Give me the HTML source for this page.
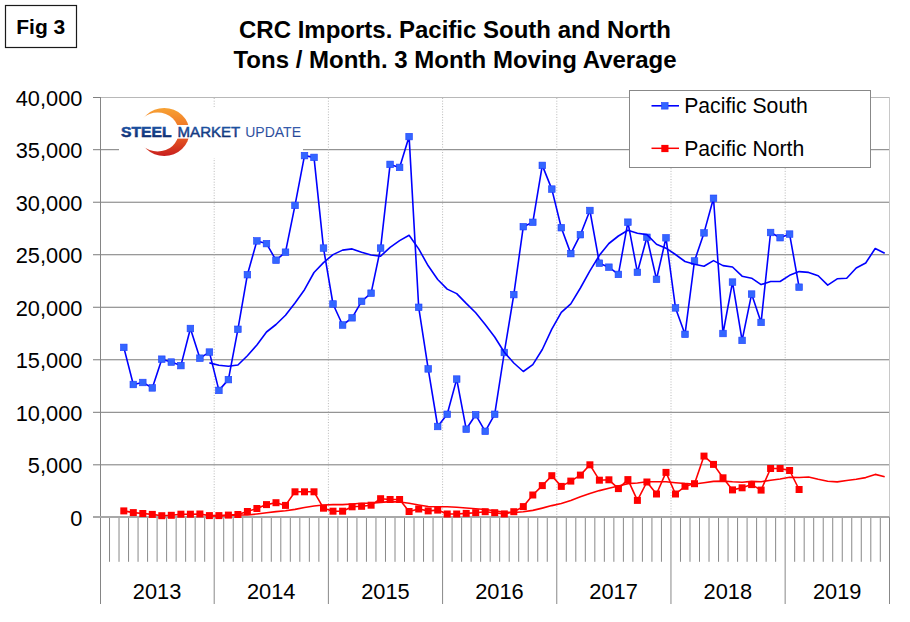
<!DOCTYPE html><html><head><meta charset="utf-8"><style>html,body{margin:0;padding:0;background:#fff;}svg{display:block;}text{font-family:"Liberation Sans",sans-serif;}</style></head><body><svg width="910" height="622" viewBox="0 0 910 622"><defs><linearGradient id="cg" x1="0" y1="0" x2="0" y2="1"><stop offset="0" stop-color="#f7a234"/><stop offset="0.5" stop-color="#ee6a22"/><stop offset="1" stop-color="#c81e1e"/></linearGradient><linearGradient id="tg" x1="0" y1="0" x2="0" y2="1"><stop offset="0" stop-color="#1f5cb0"/><stop offset="1" stop-color="#0b2464"/></linearGradient><linearGradient id="ug" x1="0" y1="0" x2="0" y2="1"><stop offset="0" stop-color="#3d64b4"/><stop offset="1" stop-color="#1e3c8c"/></linearGradient></defs><rect width="910" height="622" fill="#fff"/><rect x="5.5" y="5.5" width="71" height="42" fill="none" stroke="#1a1a1a" stroke-width="1.2"/><text x="16.3" y="34.2" font-size="21" font-weight="bold" fill="#000">Fig 3</text><text x="455" y="38.2" font-size="24" font-weight="bold" text-anchor="middle" fill="#000">CRC Imports. Pacific South and North</text><text x="455" y="68.4" font-size="24" font-weight="bold" text-anchor="middle" fill="#000">Tons / Month. 3 Month Moving Average</text><line x1="93" y1="149.70" x2="889.5" y2="149.70" stroke="#7a7a7a" stroke-width="1"/><line x1="93" y1="202.22" x2="889.5" y2="202.22" stroke="#7a7a7a" stroke-width="1"/><line x1="93" y1="254.74" x2="889.5" y2="254.74" stroke="#7a7a7a" stroke-width="1"/><line x1="93" y1="307.26" x2="889.5" y2="307.26" stroke="#7a7a7a" stroke-width="1"/><line x1="93" y1="359.78" x2="889.5" y2="359.78" stroke="#7a7a7a" stroke-width="1"/><line x1="93" y1="412.30" x2="889.5" y2="412.30" stroke="#7a7a7a" stroke-width="1"/><line x1="93" y1="464.82" x2="889.5" y2="464.82" stroke="#7a7a7a" stroke-width="1"/><line x1="100" y1="97.5" x2="889.5" y2="97.5" stroke="#b8b8b8" stroke-width="1"/><line x1="93" y1="97.5" x2="100" y2="97.5" stroke="#808080" stroke-width="1"/><line x1="214.2" y1="98.0" x2="214.2" y2="517.0" stroke="#b8b8b8" stroke-width="1" stroke-dasharray="1,1.7"/><line x1="328.4" y1="98.0" x2="328.4" y2="517.0" stroke="#b8b8b8" stroke-width="1" stroke-dasharray="1,1.7"/><line x1="442.6" y1="98.0" x2="442.6" y2="517.0" stroke="#b8b8b8" stroke-width="1" stroke-dasharray="1,1.7"/><line x1="556.8" y1="98.0" x2="556.8" y2="517.0" stroke="#b8b8b8" stroke-width="1" stroke-dasharray="1,1.7"/><line x1="671.0" y1="98.0" x2="671.0" y2="517.0" stroke="#b8b8b8" stroke-width="1" stroke-dasharray="1,1.7"/><line x1="785.2" y1="98.0" x2="785.2" y2="517.0" stroke="#b8b8b8" stroke-width="1" stroke-dasharray="1,1.7"/><line x1="889.5" y1="97.0" x2="889.5" y2="517.0" stroke="#c8c8c8" stroke-width="1"/><line x1="889.5" y1="517.0" x2="889.5" y2="604" stroke="#888" stroke-width="1"/><line x1="109.52" y1="517.0" x2="109.52" y2="561.8" stroke="#888" stroke-width="1"/><line x1="119.03" y1="517.0" x2="119.03" y2="561.8" stroke="#888" stroke-width="1"/><line x1="128.55" y1="517.0" x2="128.55" y2="561.8" stroke="#888" stroke-width="1"/><line x1="138.06" y1="517.0" x2="138.06" y2="561.8" stroke="#888" stroke-width="1"/><line x1="147.58" y1="517.0" x2="147.58" y2="561.8" stroke="#888" stroke-width="1"/><line x1="157.10" y1="517.0" x2="157.10" y2="561.8" stroke="#888" stroke-width="1"/><line x1="166.61" y1="517.0" x2="166.61" y2="561.8" stroke="#888" stroke-width="1"/><line x1="176.13" y1="517.0" x2="176.13" y2="561.8" stroke="#888" stroke-width="1"/><line x1="185.64" y1="517.0" x2="185.64" y2="561.8" stroke="#888" stroke-width="1"/><line x1="195.16" y1="517.0" x2="195.16" y2="561.8" stroke="#888" stroke-width="1"/><line x1="204.68" y1="517.0" x2="204.68" y2="561.8" stroke="#888" stroke-width="1"/><line x1="214.19" y1="517.0" x2="214.19" y2="604" stroke="#888" stroke-width="1"/><line x1="223.71" y1="517.0" x2="223.71" y2="561.8" stroke="#888" stroke-width="1"/><line x1="233.22" y1="517.0" x2="233.22" y2="561.8" stroke="#888" stroke-width="1"/><line x1="242.74" y1="517.0" x2="242.74" y2="561.8" stroke="#888" stroke-width="1"/><line x1="252.26" y1="517.0" x2="252.26" y2="561.8" stroke="#888" stroke-width="1"/><line x1="261.77" y1="517.0" x2="261.77" y2="561.8" stroke="#888" stroke-width="1"/><line x1="271.29" y1="517.0" x2="271.29" y2="561.8" stroke="#888" stroke-width="1"/><line x1="280.80" y1="517.0" x2="280.80" y2="561.8" stroke="#888" stroke-width="1"/><line x1="290.32" y1="517.0" x2="290.32" y2="561.8" stroke="#888" stroke-width="1"/><line x1="299.84" y1="517.0" x2="299.84" y2="561.8" stroke="#888" stroke-width="1"/><line x1="309.35" y1="517.0" x2="309.35" y2="561.8" stroke="#888" stroke-width="1"/><line x1="318.87" y1="517.0" x2="318.87" y2="561.8" stroke="#888" stroke-width="1"/><line x1="328.38" y1="517.0" x2="328.38" y2="604" stroke="#888" stroke-width="1"/><line x1="337.90" y1="517.0" x2="337.90" y2="561.8" stroke="#888" stroke-width="1"/><line x1="347.42" y1="517.0" x2="347.42" y2="561.8" stroke="#888" stroke-width="1"/><line x1="356.93" y1="517.0" x2="356.93" y2="561.8" stroke="#888" stroke-width="1"/><line x1="366.45" y1="517.0" x2="366.45" y2="561.8" stroke="#888" stroke-width="1"/><line x1="375.96" y1="517.0" x2="375.96" y2="561.8" stroke="#888" stroke-width="1"/><line x1="385.48" y1="517.0" x2="385.48" y2="561.8" stroke="#888" stroke-width="1"/><line x1="395.00" y1="517.0" x2="395.00" y2="561.8" stroke="#888" stroke-width="1"/><line x1="404.51" y1="517.0" x2="404.51" y2="561.8" stroke="#888" stroke-width="1"/><line x1="414.03" y1="517.0" x2="414.03" y2="561.8" stroke="#888" stroke-width="1"/><line x1="423.54" y1="517.0" x2="423.54" y2="561.8" stroke="#888" stroke-width="1"/><line x1="433.06" y1="517.0" x2="433.06" y2="561.8" stroke="#888" stroke-width="1"/><line x1="442.58" y1="517.0" x2="442.58" y2="604" stroke="#888" stroke-width="1"/><line x1="452.09" y1="517.0" x2="452.09" y2="561.8" stroke="#888" stroke-width="1"/><line x1="461.61" y1="517.0" x2="461.61" y2="561.8" stroke="#888" stroke-width="1"/><line x1="471.12" y1="517.0" x2="471.12" y2="561.8" stroke="#888" stroke-width="1"/><line x1="480.64" y1="517.0" x2="480.64" y2="561.8" stroke="#888" stroke-width="1"/><line x1="490.16" y1="517.0" x2="490.16" y2="561.8" stroke="#888" stroke-width="1"/><line x1="499.67" y1="517.0" x2="499.67" y2="561.8" stroke="#888" stroke-width="1"/><line x1="509.19" y1="517.0" x2="509.19" y2="561.8" stroke="#888" stroke-width="1"/><line x1="518.70" y1="517.0" x2="518.70" y2="561.8" stroke="#888" stroke-width="1"/><line x1="528.22" y1="517.0" x2="528.22" y2="561.8" stroke="#888" stroke-width="1"/><line x1="537.74" y1="517.0" x2="537.74" y2="561.8" stroke="#888" stroke-width="1"/><line x1="547.25" y1="517.0" x2="547.25" y2="561.8" stroke="#888" stroke-width="1"/><line x1="556.77" y1="517.0" x2="556.77" y2="604" stroke="#888" stroke-width="1"/><line x1="566.28" y1="517.0" x2="566.28" y2="561.8" stroke="#888" stroke-width="1"/><line x1="575.80" y1="517.0" x2="575.80" y2="561.8" stroke="#888" stroke-width="1"/><line x1="585.32" y1="517.0" x2="585.32" y2="561.8" stroke="#888" stroke-width="1"/><line x1="594.83" y1="517.0" x2="594.83" y2="561.8" stroke="#888" stroke-width="1"/><line x1="604.35" y1="517.0" x2="604.35" y2="561.8" stroke="#888" stroke-width="1"/><line x1="613.86" y1="517.0" x2="613.86" y2="561.8" stroke="#888" stroke-width="1"/><line x1="623.38" y1="517.0" x2="623.38" y2="561.8" stroke="#888" stroke-width="1"/><line x1="632.90" y1="517.0" x2="632.90" y2="561.8" stroke="#888" stroke-width="1"/><line x1="642.41" y1="517.0" x2="642.41" y2="561.8" stroke="#888" stroke-width="1"/><line x1="651.93" y1="517.0" x2="651.93" y2="561.8" stroke="#888" stroke-width="1"/><line x1="661.44" y1="517.0" x2="661.44" y2="561.8" stroke="#888" stroke-width="1"/><line x1="670.96" y1="517.0" x2="670.96" y2="604" stroke="#888" stroke-width="1"/><line x1="680.48" y1="517.0" x2="680.48" y2="561.8" stroke="#888" stroke-width="1"/><line x1="689.99" y1="517.0" x2="689.99" y2="561.8" stroke="#888" stroke-width="1"/><line x1="699.51" y1="517.0" x2="699.51" y2="561.8" stroke="#888" stroke-width="1"/><line x1="709.02" y1="517.0" x2="709.02" y2="561.8" stroke="#888" stroke-width="1"/><line x1="718.54" y1="517.0" x2="718.54" y2="561.8" stroke="#888" stroke-width="1"/><line x1="728.06" y1="517.0" x2="728.06" y2="561.8" stroke="#888" stroke-width="1"/><line x1="737.57" y1="517.0" x2="737.57" y2="561.8" stroke="#888" stroke-width="1"/><line x1="747.09" y1="517.0" x2="747.09" y2="561.8" stroke="#888" stroke-width="1"/><line x1="756.60" y1="517.0" x2="756.60" y2="561.8" stroke="#888" stroke-width="1"/><line x1="766.12" y1="517.0" x2="766.12" y2="561.8" stroke="#888" stroke-width="1"/><line x1="775.64" y1="517.0" x2="775.64" y2="561.8" stroke="#888" stroke-width="1"/><line x1="785.15" y1="517.0" x2="785.15" y2="604" stroke="#888" stroke-width="1"/><line x1="794.67" y1="517.0" x2="794.67" y2="561.8" stroke="#888" stroke-width="1"/><line x1="804.18" y1="517.0" x2="804.18" y2="561.8" stroke="#888" stroke-width="1"/><line x1="813.70" y1="517.0" x2="813.70" y2="561.8" stroke="#888" stroke-width="1"/><line x1="823.22" y1="517.0" x2="823.22" y2="561.8" stroke="#888" stroke-width="1"/><line x1="832.73" y1="517.0" x2="832.73" y2="561.8" stroke="#888" stroke-width="1"/><line x1="842.25" y1="517.0" x2="842.25" y2="561.8" stroke="#888" stroke-width="1"/><line x1="851.76" y1="517.0" x2="851.76" y2="561.8" stroke="#888" stroke-width="1"/><line x1="861.28" y1="517.0" x2="861.28" y2="561.8" stroke="#888" stroke-width="1"/><line x1="870.80" y1="517.0" x2="870.80" y2="561.8" stroke="#888" stroke-width="1"/><line x1="880.31" y1="517.0" x2="880.31" y2="561.8" stroke="#888" stroke-width="1"/><line x1="100.5" y1="97.0" x2="100.5" y2="604" stroke="#858585" stroke-width="1"/><line x1="93" y1="517.0" x2="889.5" y2="517.0" stroke="#a8a8a8" stroke-width="2"/><text x="82.4" y="105.8" font-size="21.8" text-anchor="end" fill="#000">40,000</text><text x="82.4" y="158.3" font-size="21.8" text-anchor="end" fill="#000">35,000</text><text x="82.4" y="210.8" font-size="21.8" text-anchor="end" fill="#000">30,000</text><text x="82.4" y="263.3" font-size="21.8" text-anchor="end" fill="#000">25,000</text><text x="82.4" y="315.8" font-size="21.8" text-anchor="end" fill="#000">20,000</text><text x="82.4" y="368.3" font-size="21.8" text-anchor="end" fill="#000">15,000</text><text x="82.4" y="420.8" font-size="21.8" text-anchor="end" fill="#000">10,000</text><text x="82.4" y="473.3" font-size="21.8" text-anchor="end" fill="#000">5,000</text><text x="82.4" y="525.8" font-size="21.8" text-anchor="end" fill="#000">0</text><text x="157.1" y="598.9" font-size="21.8" text-anchor="middle" fill="#000">2013</text><text x="271.2" y="598.9" font-size="21.8" text-anchor="middle" fill="#000">2014</text><text x="385.4" y="598.9" font-size="21.8" text-anchor="middle" fill="#000">2015</text><text x="499.5" y="598.9" font-size="21.8" text-anchor="middle" fill="#000">2016</text><text x="613.6" y="598.9" font-size="21.8" text-anchor="middle" fill="#000">2017</text><text x="727.8" y="598.9" font-size="21.8" text-anchor="middle" fill="#000">2018</text><text x="837.2" y="598.9" font-size="21.8" text-anchor="middle" fill="#000">2019</text><rect x="119" y="107" width="184" height="51" fill="#fff"/><mask id="cm"><rect x="119" y="100" width="90" height="60" fill="#fff"/><ellipse cx="157.6" cy="132.1" rx="21.1" ry="19.5" fill="#000"/></mask><ellipse cx="164.2" cy="132" rx="25.2" ry="24" fill="url(#cg)" mask="url(#cm)"/><rect x="172" y="125" width="24" height="13.6" fill="#fff"/><text x="121" y="137" font-size="14.3" font-weight="bold" fill="url(#tg)" stroke="url(#tg)" stroke-width="0.5" textLength="50.5" lengthAdjust="spacingAndGlyphs">STEEL</text><text x="177.6" y="137" font-size="14.3" fill="url(#tg)" stroke="url(#tg)" stroke-width="0.45" textLength="62.6" lengthAdjust="spacingAndGlyphs">MARKET</text><text x="245.2" y="137" font-size="14.3" fill="url(#ug)" textLength="55.8" lengthAdjust="spacingAndGlyphs">UPDATE</text><polyline points="123.8,510.9 133.3,512.6 142.8,513.5 152.3,514.4 161.8,515.7 171.3,515.3 180.9,514.2 190.4,514.2 199.9,514.0 209.4,515.6 218.9,515.6 228.4,515.1 237.9,514.5 247.4,511.5 256.9,508.5 266.5,504.6 276.0,502.7 285.5,505.4 295.0,491.8 304.5,491.8 314.0,491.8 323.5,508.2 333.0,511.2 342.6,511.2 352.1,506.8 361.6,506.3 371.1,505.2 380.6,498.7 390.1,499.5 399.6,499.5 409.1,511.5 418.7,509.0 428.2,510.9 437.7,510.1 447.2,514.0 456.7,514.0 466.2,513.4 475.7,512.7 485.2,511.7 494.7,512.7 504.3,513.9 513.8,511.7 523.3,506.6 532.8,495.0 542.3,485.6 551.8,475.7 561.3,486.4 570.8,481.1 580.4,475.1 589.9,464.8 599.4,480.2 608.9,479.8 618.4,488.6 627.9,479.6 637.4,500.4 646.9,482.0 656.5,494.0 666.0,472.4 675.5,494.0 685.0,486.3 694.5,483.7 704.0,456.1 713.5,464.4 723.0,477.8 732.5,489.9 742.1,487.8 751.6,484.6 761.1,490.1 770.6,468.5 780.1,468.5 789.6,470.5 799.1,489.5" fill="none" stroke="#ff0000" stroke-width="1.6" stroke-linejoin="round"/><g fill="#ff0000"><rect x="120.3" y="507.4" width="7" height="7"/><rect x="129.8" y="509.1" width="7" height="7"/><rect x="139.3" y="510.0" width="7" height="7"/><rect x="148.8" y="510.9" width="7" height="7"/><rect x="158.3" y="512.2" width="7" height="7"/><rect x="167.8" y="511.8" width="7" height="7"/><rect x="177.4" y="510.7" width="7" height="7"/><rect x="186.9" y="510.7" width="7" height="7"/><rect x="196.4" y="510.5" width="7" height="7"/><rect x="205.9" y="512.1" width="7" height="7"/><rect x="215.4" y="512.1" width="7" height="7"/><rect x="224.9" y="511.6" width="7" height="7"/><rect x="234.4" y="511.0" width="7" height="7"/><rect x="243.9" y="508.0" width="7" height="7"/><rect x="253.4" y="505.0" width="7" height="7"/><rect x="263.0" y="501.1" width="7" height="7"/><rect x="272.5" y="499.2" width="7" height="7"/><rect x="282.0" y="501.9" width="7" height="7"/><rect x="291.5" y="488.3" width="7" height="7"/><rect x="301.0" y="488.3" width="7" height="7"/><rect x="310.5" y="488.3" width="7" height="7"/><rect x="320.0" y="504.7" width="7" height="7"/><rect x="329.5" y="507.7" width="7" height="7"/><rect x="339.1" y="507.7" width="7" height="7"/><rect x="348.6" y="503.3" width="7" height="7"/><rect x="358.1" y="502.8" width="7" height="7"/><rect x="367.6" y="501.7" width="7" height="7"/><rect x="377.1" y="495.2" width="7" height="7"/><rect x="386.6" y="496.0" width="7" height="7"/><rect x="396.1" y="496.0" width="7" height="7"/><rect x="405.6" y="508.0" width="7" height="7"/><rect x="415.2" y="505.5" width="7" height="7"/><rect x="424.7" y="507.4" width="7" height="7"/><rect x="434.2" y="506.6" width="7" height="7"/><rect x="443.7" y="510.5" width="7" height="7"/><rect x="453.2" y="510.5" width="7" height="7"/><rect x="462.7" y="509.9" width="7" height="7"/><rect x="472.2" y="509.2" width="7" height="7"/><rect x="481.7" y="508.2" width="7" height="7"/><rect x="491.2" y="509.2" width="7" height="7"/><rect x="500.8" y="510.4" width="7" height="7"/><rect x="510.3" y="508.2" width="7" height="7"/><rect x="519.8" y="503.1" width="7" height="7"/><rect x="529.3" y="491.5" width="7" height="7"/><rect x="538.8" y="482.1" width="7" height="7"/><rect x="548.3" y="472.2" width="7" height="7"/><rect x="557.8" y="482.9" width="7" height="7"/><rect x="567.3" y="477.6" width="7" height="7"/><rect x="576.9" y="471.6" width="7" height="7"/><rect x="586.4" y="461.3" width="7" height="7"/><rect x="595.9" y="476.7" width="7" height="7"/><rect x="605.4" y="476.3" width="7" height="7"/><rect x="614.9" y="485.1" width="7" height="7"/><rect x="624.4" y="476.1" width="7" height="7"/><rect x="633.9" y="496.9" width="7" height="7"/><rect x="643.4" y="478.5" width="7" height="7"/><rect x="653.0" y="490.5" width="7" height="7"/><rect x="662.5" y="468.9" width="7" height="7"/><rect x="672.0" y="490.5" width="7" height="7"/><rect x="681.5" y="482.8" width="7" height="7"/><rect x="691.0" y="480.2" width="7" height="7"/><rect x="700.5" y="452.6" width="7" height="7"/><rect x="710.0" y="460.9" width="7" height="7"/><rect x="719.5" y="474.3" width="7" height="7"/><rect x="729.0" y="486.4" width="7" height="7"/><rect x="738.6" y="484.3" width="7" height="7"/><rect x="748.1" y="481.1" width="7" height="7"/><rect x="757.6" y="486.6" width="7" height="7"/><rect x="767.1" y="465.0" width="7" height="7"/><rect x="776.6" y="465.0" width="7" height="7"/><rect x="786.1" y="467.0" width="7" height="7"/><rect x="795.6" y="486.0" width="7" height="7"/></g><polyline points="209.4,516.0 218.9,516.0 228.4,515.5 237.9,515.0 247.4,515.0 256.9,514.0 266.5,512.8 276.0,511.6 285.5,510.8 295.0,509.4 304.5,507.5 314.0,506.0 323.5,505.0 333.0,504.6 342.6,504.6 352.1,504.0 361.6,503.3 371.1,503.3 380.6,502.4 390.1,501.6 399.6,502.0 409.1,503.3 418.7,505.0 428.2,506.5 437.7,506.8 447.2,506.8 456.7,507.2 466.2,508.0 475.7,508.8 485.2,509.5 494.7,510.8 504.3,512.3 513.8,512.5 523.3,511.8 532.8,510.4 542.3,508.1 551.8,505.6 561.3,503.5 570.8,500.5 580.4,496.8 589.9,493.5 599.4,490.6 608.9,488.3 618.4,486.0 627.9,483.6 637.4,483.0 646.9,481.8 656.5,481.8 666.0,481.8 675.5,482.7 685.0,483.5 694.5,484.0 704.0,482.7 713.5,481.4 723.0,481.1 732.5,481.8 742.1,482.2 751.6,481.4 761.1,481.8 770.6,480.2 780.1,479.0 789.6,477.3 799.1,477.5 808.6,477.0 818.2,479.3 827.7,481.2 837.2,481.9 846.7,480.5 856.2,479.3 865.7,477.6 875.2,474.4 884.7,476.7" fill="none" stroke="#ff0000" stroke-width="1.6" stroke-linejoin="round"/><polyline points="123.8,347.4 133.3,384.5 142.8,382.5 152.3,387.9 161.8,359.2 171.3,362.1 180.9,365.6 190.4,328.5 199.9,358.2 209.4,352.1 218.9,390.4 228.4,379.6 237.9,329.3 247.4,274.7 256.9,240.9 266.5,243.6 276.0,260.2 285.5,252.2 295.0,205.4 304.5,155.6 314.0,157.4 323.5,248.1 333.0,304.0 342.6,325.0 352.1,317.8 361.6,301.3 371.1,293.2 380.6,248.1 390.1,164.4 399.6,167.4 409.1,136.6 418.7,307.3 428.2,368.9 437.7,426.5 447.2,414.3 456.7,379.1 466.2,429.2 475.7,414.8 485.2,431.3 494.7,414.3 504.3,352.5 513.8,294.6 523.3,226.7 532.8,222.3 542.3,165.4 551.8,189.1 561.3,227.7 570.8,253.6 580.4,234.7 589.9,210.5 599.4,263.2 608.9,267.2 618.4,274.4 627.9,222.2 637.4,272.3 646.9,237.3 656.5,279.3 666.0,237.8 675.5,307.9 685.0,334.3 694.5,261.0 704.0,232.9 713.5,198.3 723.0,333.5 732.5,282.1 742.1,340.4 751.6,294.1 761.1,322.4 770.6,232.5 780.1,237.7 789.6,234.1 799.1,287.2" fill="none" stroke="#0000ff" stroke-width="1.6" stroke-linejoin="round"/><g fill="#3366ff" stroke="#1f3fff" stroke-width="0.6"><rect x="120.5" y="344.1" width="6.6" height="6.6"/><rect x="130.0" y="381.2" width="6.6" height="6.6"/><rect x="139.5" y="379.2" width="6.6" height="6.6"/><rect x="149.0" y="384.6" width="6.6" height="6.6"/><rect x="158.5" y="355.9" width="6.6" height="6.6"/><rect x="168.0" y="358.8" width="6.6" height="6.6"/><rect x="177.6" y="362.3" width="6.6" height="6.6"/><rect x="187.1" y="325.2" width="6.6" height="6.6"/><rect x="196.6" y="354.9" width="6.6" height="6.6"/><rect x="206.1" y="348.8" width="6.6" height="6.6"/><rect x="215.6" y="387.1" width="6.6" height="6.6"/><rect x="225.1" y="376.3" width="6.6" height="6.6"/><rect x="234.6" y="326.0" width="6.6" height="6.6"/><rect x="244.1" y="271.4" width="6.6" height="6.6"/><rect x="253.6" y="237.6" width="6.6" height="6.6"/><rect x="263.2" y="240.3" width="6.6" height="6.6"/><rect x="272.7" y="256.9" width="6.6" height="6.6"/><rect x="282.2" y="248.9" width="6.6" height="6.6"/><rect x="291.7" y="202.1" width="6.6" height="6.6"/><rect x="301.2" y="152.3" width="6.6" height="6.6"/><rect x="310.7" y="154.1" width="6.6" height="6.6"/><rect x="320.2" y="244.8" width="6.6" height="6.6"/><rect x="329.7" y="300.7" width="6.6" height="6.6"/><rect x="339.3" y="321.7" width="6.6" height="6.6"/><rect x="348.8" y="314.5" width="6.6" height="6.6"/><rect x="358.3" y="298.0" width="6.6" height="6.6"/><rect x="367.8" y="289.9" width="6.6" height="6.6"/><rect x="377.3" y="244.8" width="6.6" height="6.6"/><rect x="386.8" y="161.1" width="6.6" height="6.6"/><rect x="396.3" y="164.1" width="6.6" height="6.6"/><rect x="405.8" y="133.3" width="6.6" height="6.6"/><rect x="415.4" y="304.0" width="6.6" height="6.6"/><rect x="424.9" y="365.6" width="6.6" height="6.6"/><rect x="434.4" y="423.2" width="6.6" height="6.6"/><rect x="443.9" y="411.0" width="6.6" height="6.6"/><rect x="453.4" y="375.8" width="6.6" height="6.6"/><rect x="462.9" y="425.9" width="6.6" height="6.6"/><rect x="472.4" y="411.5" width="6.6" height="6.6"/><rect x="481.9" y="428.0" width="6.6" height="6.6"/><rect x="491.4" y="411.0" width="6.6" height="6.6"/><rect x="501.0" y="349.2" width="6.6" height="6.6"/><rect x="510.5" y="291.3" width="6.6" height="6.6"/><rect x="520.0" y="223.4" width="6.6" height="6.6"/><rect x="529.5" y="219.0" width="6.6" height="6.6"/><rect x="539.0" y="162.1" width="6.6" height="6.6"/><rect x="548.5" y="185.8" width="6.6" height="6.6"/><rect x="558.0" y="224.4" width="6.6" height="6.6"/><rect x="567.5" y="250.3" width="6.6" height="6.6"/><rect x="577.1" y="231.4" width="6.6" height="6.6"/><rect x="586.6" y="207.2" width="6.6" height="6.6"/><rect x="596.1" y="259.9" width="6.6" height="6.6"/><rect x="605.6" y="263.9" width="6.6" height="6.6"/><rect x="615.1" y="271.1" width="6.6" height="6.6"/><rect x="624.6" y="218.9" width="6.6" height="6.6"/><rect x="634.1" y="269.0" width="6.6" height="6.6"/><rect x="643.6" y="234.0" width="6.6" height="6.6"/><rect x="653.2" y="276.0" width="6.6" height="6.6"/><rect x="662.7" y="234.5" width="6.6" height="6.6"/><rect x="672.2" y="304.6" width="6.6" height="6.6"/><rect x="681.7" y="331.0" width="6.6" height="6.6"/><rect x="691.2" y="257.7" width="6.6" height="6.6"/><rect x="700.7" y="229.6" width="6.6" height="6.6"/><rect x="710.2" y="195.0" width="6.6" height="6.6"/><rect x="719.7" y="330.2" width="6.6" height="6.6"/><rect x="729.2" y="278.8" width="6.6" height="6.6"/><rect x="738.8" y="337.1" width="6.6" height="6.6"/><rect x="748.3" y="290.8" width="6.6" height="6.6"/><rect x="757.8" y="319.1" width="6.6" height="6.6"/><rect x="767.3" y="229.2" width="6.6" height="6.6"/><rect x="776.8" y="234.4" width="6.6" height="6.6"/><rect x="786.3" y="230.8" width="6.6" height="6.6"/><rect x="795.8" y="283.9" width="6.6" height="6.6"/></g><polyline points="209.4,362.9 218.9,365.2 228.4,366.2 237.9,365.0 247.4,355.7 256.9,345.0 266.5,332.0 276.0,324.5 285.5,315.3 295.0,303.0 304.5,289.7 314.0,272.5 323.5,262.6 333.0,254.6 342.6,250.1 352.1,248.9 361.6,252.2 371.1,255.0 380.6,256.2 390.1,247.3 399.6,240.6 409.1,235.3 418.7,248.9 428.2,265.8 437.7,279.5 447.2,289.1 456.7,293.6 466.2,303.4 475.7,312.7 485.2,324.6 494.7,337.0 504.3,352.2 513.8,363.0 523.3,371.5 532.8,364.7 542.3,349.5 551.8,329.2 561.3,312.3 570.8,303.8 580.4,288.0 589.9,270.8 599.4,255.3 608.9,243.5 618.4,236.0 627.9,230.3 637.4,233.2 646.9,234.6 656.5,244.2 666.0,248.2 675.5,254.5 685.0,261.5 694.5,264.3 704.0,266.2 713.5,260.6 723.0,265.6 732.5,267.0 742.1,276.2 751.6,278.2 761.1,284.6 770.6,281.5 780.1,281.5 789.6,275.3 799.1,271.6 808.6,272.4 818.2,275.8 827.7,285.1 837.2,278.8 846.7,278.3 856.2,268.0 865.7,263.0 875.2,248.5 884.7,253.3" fill="none" stroke="#0000ff" stroke-width="1.6" stroke-linejoin="round"/><rect x="629.5" y="90.5" width="241" height="77" fill="#fff" stroke="#888" stroke-width="1"/><line x1="651.5" y1="105.8" x2="679" y2="105.8" stroke="#0000ff" stroke-width="1.6"/><rect x="661.5" y="102.5" width="6.6" height="6.6" fill="#3366ff" stroke="#1f3fff" stroke-width="0.6"/><text x="684.2" y="112.8" font-size="21.2" fill="#000">Pacific South</text><line x1="651.5" y1="148.3" x2="679" y2="148.3" stroke="#ff0000" stroke-width="1.5"/><rect x="661.3" y="144.9" width="7.2" height="7.2" fill="#ff0000"/><text x="684.2" y="156" font-size="21.2" fill="#000">Pacific North</text></svg></body></html>
